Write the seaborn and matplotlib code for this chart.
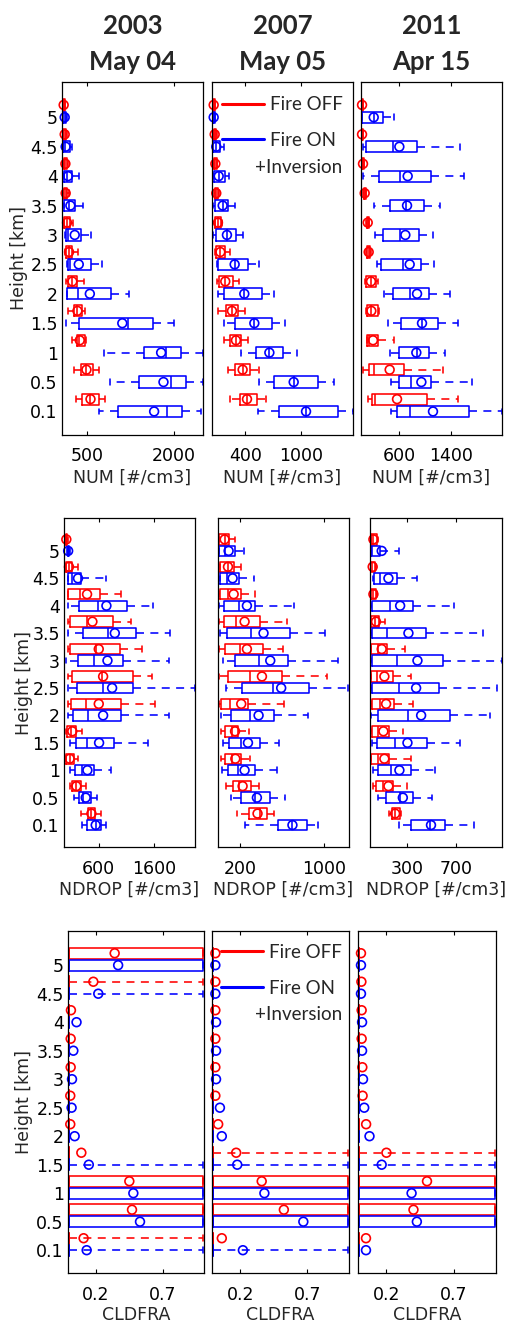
import numpy as np
import matplotlib
matplotlib.use("Agg")
import matplotlib.pyplot as plt
from matplotlib.lines import Line2D
import seaborn as sns

# ---------------- data ----------------
HEIGHTS = ["0.1", "0.5", "1", "1.5", "2", "2.5", "3", "3.5", "4", "4.5", "5"]
DATES = ["2003\nMay 04", "2007\nMay 05", "2011\nApr 15"]
SERIES = ["Fire OFF", "Fire ON"]
EXTRA_LABEL = "+Inversion"
VARIABLES = ["NUM [#/cm3]", "NDROP [#/cm3]", "CLDFRA"]
XTICKS = [[[500, 2000], [400, 1000], [600, 1400]],
          [[600, 1600], [200, 1000], [300, 700]],
          [[0.2, 0.7], [0.2, 0.7], [0.2, 0.7]]]
XLIMS = [[(56, 2514), (41, 1560), (6, 2190)],
         [(-30, 2345), (-12, 1234), (-7, 1075)],
         [(-0.01, 1.01), (-0.01, 1.01), (-0.01, 1.01)]]

# each row: [whisker_low, q1, median, q3, whisker_high, mean]; heights 0.1 -> 5 km
NUM_2003_OFF = [[307, 407, 550, 698, 804, 553], [267, 383, 480, 588, 698, 482],
                [237, 319, 360, 453, 471, 366], [161, 261, 320, 401, 453, 325],
                [132, 161, 230, 319, 436, 237], [103, 132, 175, 237, 337, 179],
                [85, 91, 140, 202, 249, 144], [70, 90, 118, 150, 170, 120],
                [75, 88, 112, 140, 155, 115], [70, 80, 100, 125, 135, 103],
                [60, 70, 83, 100, 110, 85]]
NUM_2003_ON = [[698, 1037, 1883, 2146, 2485, 1662], [891, 1405, 1959, 2216, 2514, 1825],
               [792, 1486, 1866, 2128, 2514, 1784], [132, 348, 1212, 1638, 2000, 1107],
               [144, 144, 337, 909, 1224, 541], [140, 161, 202, 553, 757, 348],
               [110, 121, 160, 389, 570, 278], [85, 91, 180, 278, 424, 202],
               [85, 91, 140, 237, 348, 161], [70, 74, 110, 191, 237, 120],
               [60, 70, 100, 130, 140, 103]]
NUM_2007_OFF = [[238, 346, 418, 526, 626, 418], [210, 292, 371, 454, 544, 371],
                [166, 238, 299, 357, 429, 299], [105, 192, 256, 321, 393, 256],
                [95, 113, 184, 263, 328, 184], [69, 87, 131, 177, 238, 131],
                [70, 77, 105, 138, 148, 105], [60, 70, 87, 105, 115, 87],
                [55, 62, 77, 92, 100, 77], [50, 58, 70, 82, 90, 70],
                [45, 50, 59, 68, 75, 59]]
NUM_2007_ON = [[537, 759, 1054, 1395, 1560, 1054], [551, 705, 921, 1183, 1352, 921],
               [357, 519, 659, 806, 957, 659], [174, 292, 497, 687, 824, 497],
               [105, 166, 389, 580, 705, 389], [95, 102, 285, 429, 551, 285],
               [48, 87, 202, 303, 371, 202], [48, 70, 156, 213, 292, 156],
               [48, 59, 113, 177, 228, 113], [45, 48, 87, 130, 166, 87],
               [45, 50, 59, 70, 75, 59]]
NUM_2011_OFF = [[115, 177, 228, 1028, 1503, 564], [42, 135, 203, 667, 1276, 450],
                [99, 99, 135, 265, 512, 192], [90, 99, 166, 265, 290, 166],
                [75, 84, 161, 244, 265, 161], [90, 100, 125, 150, 160, 125],
                [85, 95, 110, 125, 135, 110], [40, 50, 63, 78, 88, 63],
                [20, 28, 37, 46, 55, 37], [10, 15, 22, 30, 35, 22],
                [10, 15, 22, 30, 35, 22]]
NUM_2011_ON = [[476, 564, 760, 1673, 2190, 1121], [476, 600, 781, 1095, 1725, 941],
               [461, 600, 874, 1064, 1302, 863], [419, 626, 951, 1194, 1503, 951],
               [357, 502, 770, 1054, 1390, 874], [254, 321, 657, 935, 1142, 760],
               [228, 342, 605, 899, 1121, 693], [203, 461, 708, 987, 1235, 719],
               [37, 290, 615, 1095, 1596, 729], [37, 84, 497, 874, 1544, 600],
               [22, 22, 203, 342, 523, 203]]

NDROP_2003_OFF = [[285, 406, 467, 539, 648, 467], [73, 121, 194, 273, 376, 194],
                  [0, 12, 73, 145, 224, 73], [10, 30, 103, 194, 303, 120],
                  [42, 103, 376, 1000, 1618, 600], [42, 121, 650, 1212, 1558, 679],
                  [42, 85, 558, 982, 1376, 600], [42, 85, 388, 861, 1182, 485],
                  [42, 42, 255, 630, 1012, 388], [0, 0, 60, 121, 224, 60],
                  [-10, 0, 12, 25, 35, 12]]
NDROP_2003_ON = [[303, 394, 545, 636, 739, 545], [145, 242, 315, 467, 570, 364],
                 [85, 176, 303, 515, 818, 394], [73, 194, 394, 879, 1497, 606],
                 [42, 133, 406, 1000, 1873, 679], [42, 206, 673, 1212, 2345, 842],
                 [12, 224, 515, 1042, 1873, 758], [42, 315, 770, 1273, 1891, 891],
                 [42, 242, 588, 1121, 1588, 739], [42, 42, 120, 285, 739, 224],
                 [30, 35, 42, 60, 80, 45]]
NDROP_2007_OFF = [[168, 285, 390, 453, 516, 364], [64, 127, 191, 304, 380, 222],
                  [20, 58, 121, 209, 289, 153], [20, 58, 121, 178, 279, 150],
                  [1, 20, 99, 273, 611, 209], [1, 83, 289, 595, 1022, 406],
                  [1, 58, 194, 412, 602, 263], [1, 42, 162, 383, 643, 241],
                  [1, 10, 83, 209, 342, 137], [5, 10, 83, 137, 210, 83],
                  [1, 1, 51, 89, 146, 51]]
NDROP_2007_ON = [[247, 557, 696, 832, 937, 696], [115, 209, 342, 485, 627, 358],
                 [26, 83, 175, 342, 548, 241], [32, 89, 209, 390, 570, 273],
                 [20, 115, 289, 516, 842, 374], [64, 216, 507, 858, 1228, 589],
                 [32, 153, 374, 652, 1126, 485], [10, 74, 301, 674, 1006, 421],
                 [1, 42, 184, 336, 715, 263], [10, 10, 74, 184, 326, 127],
                 [1, 1, 51, 146, 232, 89]]
NDROP_2011_OFF = [[152, 171, 199, 240, 250, 199], [15, 42, 103, 185, 294, 144],
                  [-1, -1, 62, 149, 330, 111], [0, 12, 62, 149, 267, 103],
                  [0, 7, 75, 193, 344, 125], [-1, -1, 51, 179, 330, 111],
                  [-1, -1, 60, 130, 281, 89], [-1, -1, 30, 70, 116, 42],
                  [-3, -1, 15, 40, 50, 21], [-7, -7, 10, 34, 45, 15],
                  [-1, -1, 15, 48, 62, 21]]
NDROP_2011_ON = [[234, 327, 486, 610, 848, 493], [62, 122, 240, 349, 500, 262],
                 [15, 62, 163, 330, 522, 234], [7, 53, 199, 459, 727, 300],
                 [-1, 62, 308, 651, 974, 412], [0, 7, 234, 555, 1034, 371],
                 [5, 7, 212, 590, 1075, 382], [0, 7, 136, 453, 919, 308],
                 [0, 7, 158, 344, 678, 240], [15, 26, 75, 212, 377, 144],
                 [-1, -1, 7, 75, 234, 89]]

CLDFRA_2003_OFF = [[0, 0, 0, 0, 1, 0.107], [0, 0, 0, 1, 1, 0.47], [0, 0, 0, 1, 1, 0.45],
                   [0, 0, 0, 0, 0, 0.09], [0, 0, 0, 0, 0, 0.007], [0, 0, 0, 0, 0, 0.007],
                   [0, 0, 0, 0, 0, 0.01], [0, 0, 0, 0, 0, 0.01], [0, 0, 0, 0, 0, 0.012],
                   [0, 0, 0, 0, 1, 0.18], [0, 0, 0, 1, 1, 0.34]]
CLDFRA_2003_ON = [[0, 0, 0, 0, 1, 0.13], [0, 0, 0, 1, 1, 0.53], [0, 0, 0, 1, 1, 0.48],
                  [0, 0, 0, 0, 1, 0.146], [0, 0, 0, 0, 0, 0.04], [0, 0, 0, 0, 0, 0.017],
                  [0, 0, 0, 0, 0, 0.02], [0, 0, 0, 0, 0, 0.03], [0, 0, 0, 0, 0, 0.054],
                  [0, 0, 0, 0, 1, 0.217], [0, 0, 0, 1, 1, 0.366]]
CLDFRA_2007_OFF = [[0, 0, 0, 0, 0, 0.063], [0, 0, 0, 1, 1, 0.525], [0, 0, 0, 1, 1, 0.36],
                   [0, 0, 0, 0, 1, 0.17], [0, 0, 0, 0, 0, 0.036], [0, 0, 0, 0, 0, 0.015],
                   [0, 0, 0, 0, 0, 0.015], [0, 0, 0, 0, 0, 0.015], [0, 0, 0, 0, 0, 0.015],
                   [0, 0, 0, 0, 0, 0.015], [0, 0, 0, 0, 0, 0.015]]
CLDFRA_2007_ON = [[0, 0, 0, 0, 1, 0.22], [0, 0, 0, 1, 1, 0.67], [0, 0, 0, 1, 1, 0.38],
                  [0, 0, 0, 0, 1, 0.178], [0, 0, 0, 0, 0, 0.063], [0, 0, 0, 0, 0, 0.049],
                  [0, 0, 0, 0, 0, 0.02], [0, 0, 0, 0, 0, 0.02], [0, 0, 0, 0, 0, 0.02],
                  [0, 0, 0, 0, 0, 0.015], [0, 0, 0, 0, 0, 0.015]]
CLDFRA_2011_OFF = [[0, 0, 0, 0, 0, 0.049], [0, 0, 0, 1, 1, 0.40], [0, 0, 0, 1, 1, 0.50],
                   [0, 0, 0, 0, 1, 0.20], [0, 0, 0, 0, 0, 0.05], [0, 0, 0, 0, 0, 0.024],
                   [0, 0, 0, 0, 0, 0.022], [0, 0, 0, 0, 0, 0.017], [0, 0, 0, 0, 0, 0.017],
                   [0, 0, 0, 0, 0, 0.015], [0, 0, 0, 0, 0, 0.012]]
CLDFRA_2011_ON = [[0, 0, 0, 0, 0, 0.049], [0, 0, 0, 1, 1, 0.425], [0, 0, 0, 1, 1, 0.386],
                  [0, 0, 0, 0, 1, 0.165], [0, 0, 0, 0, 0, 0.075], [0, 0, 0, 0, 0, 0.036],
                  [0, 0, 0, 0, 0, 0.027], [0, 0, 0, 0, 0, 0.02], [0, 0, 0, 0, 0, 0.02],
                  [0, 0, 0, 0, 0, 0.012], [0, 0, 0, 0, 0, 0.012]]

PANELS = [[(NUM_2003_OFF, NUM_2003_ON), (NUM_2007_OFF, NUM_2007_ON), (NUM_2011_OFF, NUM_2011_ON)],
          [(NDROP_2003_OFF, NDROP_2003_ON), (NDROP_2007_OFF, NDROP_2007_ON),
           (NDROP_2011_OFF, NDROP_2011_ON)],
          [(CLDFRA_2003_OFF, CLDFRA_2003_ON), (CLDFRA_2007_OFF, CLDFRA_2007_ON),
           (CLDFRA_2011_OFF, CLDFRA_2011_ON)]]

# ---------------- style / layout ----------------
sns.set_theme(style="white")
plt.rcParams["font.family"] = ["DejaVu Sans"]
plt.rcParams["axes.edgecolor"] = "black"
plt.rcParams["axes.linewidth"] = 0.9

COLORS = ["#ff0000", "#0000ff"]
OFFSETS = [0.42, 0.0]
W, H = 514, 1325
ROWS_Y = [(82, 435), (518, 847), (931, 1273)]
COLS_X = [[(62, 203), (212, 353), (361, 502)],
          [(64, 195), (218, 349), (370, 502)],
          [(68, 204), (212, 349), (358, 496)]]
YLABEL_X = [-0.241, -0.237, -0.257]
LEGEND_AT = {(0, 1): (0.929, 0.960, 0.922, 0.757), (2, 1): (0.949, 0.962, 0.949, 0.757)}

fig = plt.figure(figsize=(W / 100, H / 100), dpi=100)


def draw_series(ax, rows, pos, color, clip):
    stats = [dict(whislo=r[0], q1=r[1], med=r[2], q3=r[3], whishi=r[4]) for r in rows]
    lw = 1.15
    kw = dict(positions=pos, widths=0.38, showfliers=False, showmeans=False,
              manage_ticks=False, capwidths=0.2,
              boxprops=dict(color=color, lw=lw),
              whiskerprops=dict(color=color, lw=lw, linestyle=(0, (5, 4))),
              capprops=dict(color=color, lw=lw),
              medianprops=dict(color=color, lw=lw))
    try:
        arts = ax.bxp(stats, orientation="horizontal", **kw)
    except TypeError:
        arts = ax.bxp(stats, vert=False, **kw)
    if not clip:
        for key in arts:
            for a in arts[key]:
                a.set_clip_on(False)
    sns.scatterplot(x=[r[5] for r in rows], y=pos, ax=ax, color=color,
                    facecolor="none", edgecolor=color, s=40, linewidth=1.2,
                    clip_on=False, legend=False, zorder=5)


for i in range(3):
    top, bot = ROWS_Y[i]
    for j in range(3):
        l, r = COLS_X[i][j]
        ax = fig.add_axes([l / W, 1 - bot / H, (r - l) / W, (bot - top) / H])
        off_rows, on_rows = PANELS[i][j]
        idx = np.arange(len(HEIGHTS))
        for rows, col, o in zip((off_rows, on_rows), COLORS, OFFSETS):
            draw_series(ax, rows, idx + o, col, clip=(i != 2))
        ax.set_xlim(*XLIMS[i][j])
        ax.set_ylim(-0.8, 11.2)
        ax.set_xticks(XTICKS[i][j])
        ax.set_xticklabels([f"{v:g}" for v in XTICKS[i][j]])
        ax.tick_params(axis="x", direction="in", length=3, width=0.8, top=True,
                       bottom=True, labelsize=12.5, pad=9, colors="black")
        ax.set_yticks(idx)
        if j == 0:
            ax.set_yticklabels(HEIGHTS)
            ax.set_ylabel("Height [km]", fontsize=12.5)
            ax.yaxis.set_label_coords(YLABEL_X[i], 0.5)
        else:
            ax.set_yticklabels([])
        ax.tick_params(axis="y", length=0, labelsize=12.5, pad=3, colors="black")
        ax.set_xlabel(VARIABLES[i], fontsize=12.5, labelpad=2)
        for s in ax.spines.values():
            s.set_visible(True)
            s.set_color("black")
            s.set_zorder(10)
        if i == 0:
            ax.set_title(DATES[j], fontsize=18.5, fontweight="bold", family="Lato",
                         linespacing=1.55, pad=9)
        if (i, j) in LEGEND_AT:
            lx, ly, tx, ty = LEGEND_AT[(i, j)]
            handles = [Line2D([], [], color=c, lw=2.2) for c in COLORS]
            ax.legend(handles, SERIES, loc="upper right", bbox_to_anchor=(lx, ly),
                      frameon=False, borderaxespad=0, borderpad=0, handlelength=2.2,
                      handletextpad=0.35, labelspacing=1.0,
                      prop=dict(family="Lato", size=13.5))
            ax.text(tx, ty, EXTRA_LABEL, transform=ax.transAxes, ha="right",
                    va="center", fontsize=13.5, family="Lato")

fig.savefig("out.png", dpi=100)
